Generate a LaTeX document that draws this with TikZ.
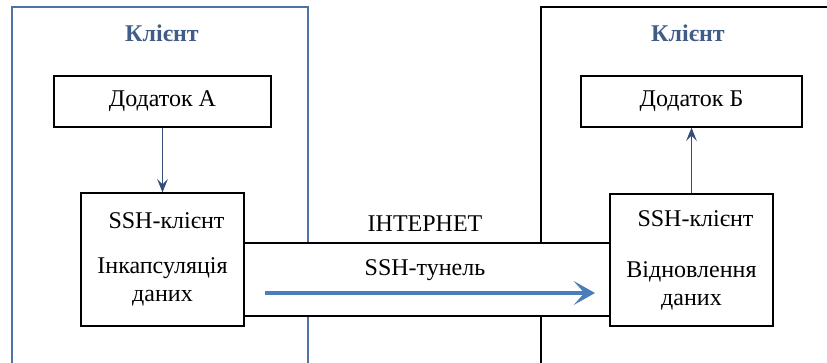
\documentclass[tikz,border=0pt]{standalone}
\usepackage{fontspec}
\setmainfont{Liberation Serif}
\usetikzlibrary{arrows.meta,positioning}
\definecolor{FrameClr}{rgb}{0.31,0.45,0.65}
\definecolor{TitleClr}{rgb}{0.25,0.36,0.53}
\definecolor{LinkClr}{rgb}{0.2,0.31,0.47}
\definecolor{TunnelClr}{rgb}{0.29,0.49,0.73}

\begin{document}
\begin{tikzpicture}[x=0.75pt,y=-0.75pt,
  font=\fontsize{18}{21}\selectfont,
  box/.style={draw,fill=white,line width=0.9pt,inner sep=0pt,align=center},
  title/.style={font=\fontsize{18}{21}\selectfont\bfseries,text=TitleClr},
  link/.style={LinkClr,line width=0.9pt,-{Stealth[length=10pt,width=8pt,inset=4pt]}},
  tunnel/.style={TunnelClr,line width=3pt,-{Stealth[length=16pt,width=18pt,inset=8pt]}}]
\useasboundingbox (0,0) rectangle (827,362);
\clip (0,0) rectangle (827,362);

% client frames
\draw[FrameClr,line width=0.9pt] (12,380) -- (12,7) -- (308,7) -- (308,380);
\draw[line width=0.9pt] (541,380) -- (541,7) -- (840,7);
\node[title] (cliA) at (162,33) {Клієнт};
\node[title] (cliB) at (688,33) {Клієнт};

% tunnel
\node[box,minimum width=274.5pt,minimum height=54.75pt] (tun) at (427,279.5) {};
\node (net) at (425,224) {ІНТЕРНЕТ};
\node (tunlbl) at (425,270) {SSH-тунель};
\coordinate (tunS) at (265,293);
\coordinate (tunE) at (595,293);
\draw[tunnel] (tunS) -- (tunE);

% applications
\node[box,minimum width=162.75pt,minimum height=38.25pt] (appA) at (162.5,101.5) {Додаток А};
\node[box,minimum width=165.75pt,minimum height=38.25pt] (appB) at (691.5,101.5) {Додаток Б};

% ssh clients
\node[box,minimum width=122.25pt,minimum height=99.75pt] (sshA) at (162.5,259.5)
  {\hspace*{6pt}SSH-клієнт\\[12.75pt]Інкапсуляція\\даних};
\node[box,minimum width=122.25pt,minimum height=99pt] (sshB) at (691.5,260)
  {\hspace*{6pt}SSH-клієнт\\[17.25pt]Відновлення\\даних};

\draw[link] (appA.south) -- (sshA.north);
\draw[link] (sshB.north) -- (appB.south);
\end{tikzpicture}
\end{document}
